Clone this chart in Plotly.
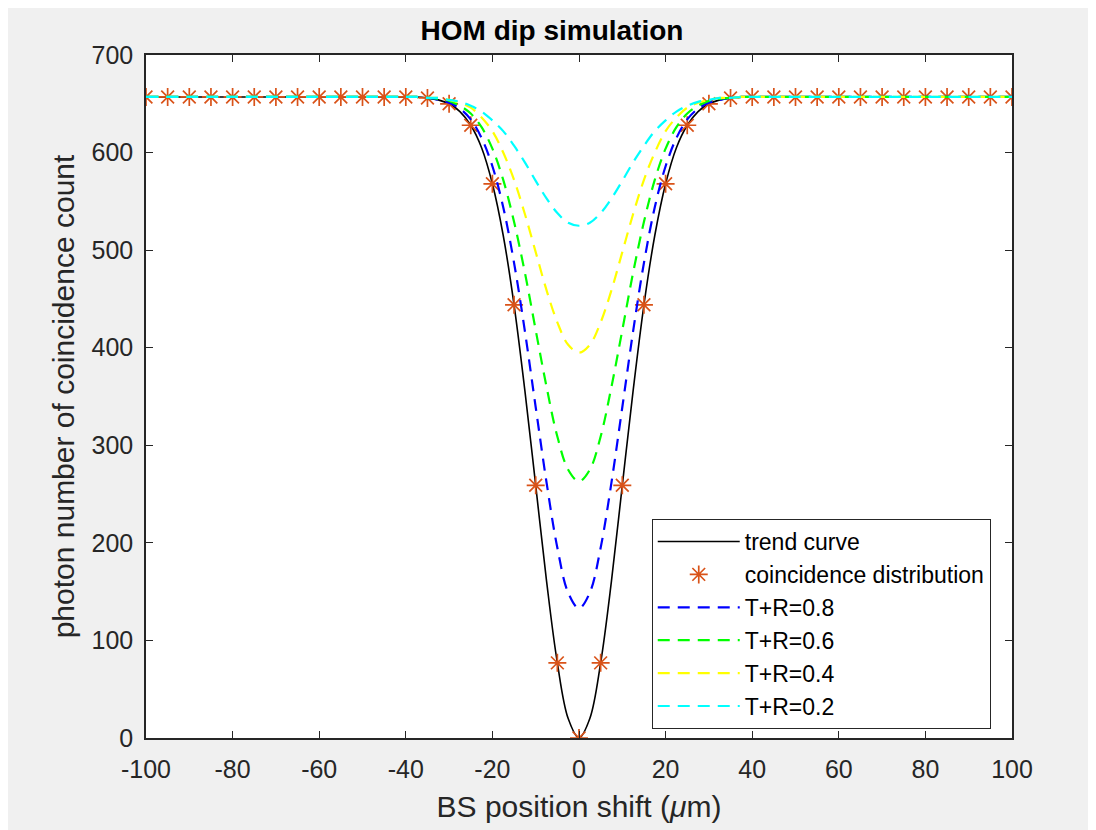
import plotly.graph_objects as go

# BS position shift (um) where the curves were sampled
x_curve = [-100, -80, -60, -45, -40, -37.5, -35, -32.5, -30, -27.5, -25, -22.5, -20, -17.5,
           -15, -12.5, -10, -7.5, -5, -2.5, 0, 2.5, 5, 7.5, 10, 12.5, 15, 17.5, 20, 22.5,
           25, 27.5, 30, 32.5, 35, 37.5, 40, 45, 60, 80, 100]

# coincidence counts
trend = [657, 657, 657, 657, 657, 657, 656, 654, 650, 642, 628, 605, 568, 515,
         444, 356, 259, 161, 77, 20, 0, 20, 77, 161, 259, 356, 444, 515, 568, 605,
         628, 642, 650, 654, 656, 657, 657, 657, 657, 657, 657]
tr_08 = [657, 657, 657, 657, 657, 657, 656, 654, 651, 645, 634, 615, 586, 544,
         487, 417, 339, 262, 195, 149, 133, 149, 195, 262, 339, 417, 487, 544, 586, 615,
         634, 645, 651, 654, 656, 657, 657, 657, 657, 657, 657]
tr_06 = [657, 657, 657, 657, 657, 657, 656, 655, 653, 648, 640, 626, 604, 572,
         529, 477, 418, 360, 309, 275, 263, 275, 309, 360, 418, 477, 529, 572, 604, 626,
         640, 648, 653, 655, 656, 657, 657, 657, 657, 657, 657]
tr_04 = [657, 657, 657, 657, 657, 657, 656, 656, 654, 651, 646, 636, 622, 600,
         572, 537, 498, 459, 426, 403, 395, 403, 426, 459, 498, 537, 572, 600, 622, 636,
         646, 651, 654, 656, 656, 657, 657, 657, 657, 657, 657]
tr_02 = [657, 657, 657, 657, 657, 657, 656, 656, 654, 652, 648, 642, 633, 622,
         607, 590, 571, 553, 538, 528, 525, 528, 538, 553, 571, 590, 607, 622, 633, 642,
         648, 652, 654, 656, 656, 657, 657, 657, 657, 657, 657]

# measured points (every 5 um)
x_pts = [-100, -95, -90, -85, -80, -75, -70, -65, -60, -55, -50, -45, -40, -35, -30, -25,
         -20, -15, -10, -5, 0, 5, 10, 15, 20, 25, 30, 35, 40, 45, 50, 55, 60, 65, 70, 75,
         80, 85, 90, 95, 100]
counts = [657, 657, 657, 657, 657, 657, 657, 657, 657, 657, 657, 657, 657, 656, 650, 628,
          568, 444, 259, 77, 0, 77, 259, 444, 568, 628, 650, 656, 657, 657, 657, 657, 657,
          657, 657, 657, 657, 657, 657, 657, 657]

# tick labels (plain hyphen like MATLAB)
x_ticks = [-100, -80, -60, -40, -20, 0, 20, 40, 60, 80, 100]
x_labels = ["-100", "-80", "-60", "-40", "-20", "0", "20", "40", "60", "80", "100"]

font = "Liberation Sans, Arial, sans-serif"
axis_col = "#262626"

fig = go.Figure()
fig.add_trace(go.Scatter(x=x_curve, y=trend, mode="lines", name="trend curve",
                         line=dict(color="black", width=1.6, shape="spline")))
fig.add_trace(go.Scatter(x=x_pts, y=counts, mode="markers", name="coincidence distribution",
                         marker=dict(symbol="asterisk-open", size=15, color="#D95319",
                                     line=dict(color="#D95319", width=1.7))))

dashed = [("T+R=0.8", tr_08, "#0000FF"), ("T+R=0.6", tr_06, "#00FF00"),
          ("T+R=0.4", tr_04, "#FFFF00"), ("T+R=0.2", tr_02, "#00FFFF")]
for name, vals, col in dashed:
    fig.add_trace(go.Scatter(x=x_curve, y=vals, mode="lines", name=name,
                             line=dict(color=col, width=2.2, dash="12px,8px", shape="spline")))

# page adds an 8px body margin, so the figure is 8px smaller than the window
fig.update_layout(
    width=1088, height=822,
    margin=dict(l=138, r=84, t=47, b=92),
    paper_bgcolor="#F0F0F0", plot_bgcolor="white",
    font=dict(family=font, size=25, color=axis_col),
    title=dict(text="<b>HOM dip simulation</b>", x=0.5, xanchor="center", y=0.973, yanchor="middle",
               font=dict(size=28, color="black")),
    showlegend=True,
    legend=dict(x=0.584, y=0.3206, xanchor="left", yanchor="top", bgcolor="white",
                bordercolor=axis_col, borderwidth=1, font=dict(size=23, color="black"),
                itemwidth=82, tracegroupgap=0),
)
fig.update_xaxes(range=[-100, 100], tickvals=x_ticks, ticktext=x_labels, showgrid=False, zeroline=False,
                 showline=True, linecolor=axis_col, linewidth=1.5, mirror="ticks",
                 ticks="inside", ticklen=7, tickcolor=axis_col, ticklabelstandoff=8,
                 title=dict(text="BS position shift (<i>μ</i>m)", standoff=14, font=dict(size=30)))
fig.update_yaxes(range=[0, 700], dtick=100, showgrid=False, zeroline=False,
                 showline=True, linecolor=axis_col, linewidth=1.5, mirror="ticks",
                 ticks="inside", ticklen=7, tickcolor=axis_col, ticklabelstandoff=6,
                 title=dict(text="photon number of coincidence count", standoff=8, font=dict(size=30)))

fig.write_html("out.html")
